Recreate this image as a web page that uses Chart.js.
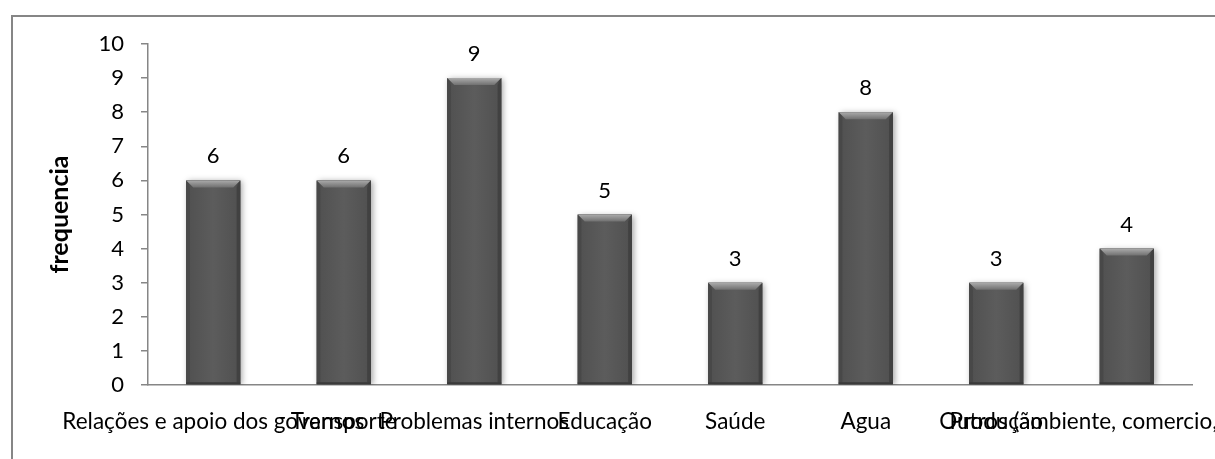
<!DOCTYPE html>
<html>
<head>
<meta charset="utf-8">
<script src="https://cdn.jsdelivr.net/npm/chart.js@4/dist/chart.umd.min.js"></script>
<style>
  html, body { margin: 0; padding: 0; background: #fff; overflow: hidden; }
  body { width: 1215px; height: 459px; position: relative; }
  #frame {
    position: absolute; left: 11px; top: 15px;
    width: 1230px; height: 450px;
    border: 2px solid #868686;
    background: #fff;
  }
  #frame canvas { display: block; }
</style>
</head>
<body>
<div id="frame"><canvas id="chart"></canvas></div>
<script>
// Frequência por tema
const categories = [
  "Relações e apoio dos governos",
  "Transporte",
  "Problemas internos",
  "Educação",
  "Saúde",
  "Agua",
  "Produção",
  "Outros (ambiente, comercio, indústria)"
];
const frequencia = [6, 6, 9, 5, 3, 8, 3, 4];
const yTicks = [0, 1, 2, 3, 4, 5, 6, 7, 8, 9, 10];

const FONT = "Lato, 'Open Sans', sans-serif";
const AXIS_GREY = "#868686";

// soft shadow under the bars, then bevel on top (Excel "3-D" look)
const bevelBars = {
  id: "bevelBars",
  beforeDatasetsDraw(chart) {
    const ctx = chart.ctx;
    ctx.save();
    ctx.shadowColor = "rgba(0,0,0,0.35)";
    ctx.shadowBlur = 6;
    ctx.shadowOffsetX = 2;
    ctx.shadowOffsetY = 1;
  },
  afterDatasetsDraw(chart) {
    const ctx = chart.ctx;
    ctx.restore();
    const meta = chart.getDatasetMeta(0);
    meta.data.forEach((bar) => {
      const w = bar.width;
      const x0 = bar.x - w / 2, x1 = bar.x + w / 2;
      const top = bar.y, base = bar.base;
      const b = 7;

      ctx.save();
      // body shading left to right
      const g = ctx.createLinearGradient(x0, 0, x1, 0);
      g.addColorStop(0, "#3e3e3e");
      g.addColorStop(0.08, "#525252");
      g.addColorStop(0.5, "#5c5c5c");
      g.addColorStop(0.92, "#525252");
      g.addColorStop(1, "#3a3a3a");
      ctx.fillStyle = g;
      ctx.fillRect(x0, top, w, base - top);

      // left bevel
      ctx.fillStyle = "#484848";
      ctx.beginPath();
      ctx.moveTo(x0, top); ctx.lineTo(x0 + b * 0.5, top + b);
      ctx.lineTo(x0 + b * 0.5, base - 2); ctx.lineTo(x0, base);
      ctx.closePath(); ctx.fill();
      // right bevel
      ctx.fillStyle = "#414141";
      ctx.beginPath();
      ctx.moveTo(x1, top); ctx.lineTo(x1 - b * 0.5, top + b);
      ctx.lineTo(x1 - b * 0.5, base - 2); ctx.lineTo(x1, base);
      ctx.closePath(); ctx.fill();

      // top bevel
      const tg = ctx.createLinearGradient(0, top, 0, top + b);
      tg.addColorStop(0, "#ababab");
      tg.addColorStop(1, "#707070");
      ctx.fillStyle = tg;
      ctx.beginPath();
      ctx.moveTo(x0, top); ctx.lineTo(x1, top);
      ctx.lineTo(x1 - b, top + b); ctx.lineTo(x0 + b, top + b);
      ctx.closePath(); ctx.fill();

      // bottom lip
      ctx.fillStyle = "#3a3a3a";
      ctx.fillRect(x0, base - 2, w, 2);
      ctx.restore();
    });
  }
};

// value above each bar
const valueLabels = {
  id: "valueLabels",
  afterDatasetsDraw(chart) {
    const ctx = chart.ctx;
    const meta = chart.getDatasetMeta(0);
    ctx.save();
    ctx.font = "22px " + FONT;
    ctx.fillStyle = "#000";
    ctx.textAlign = "center";
    ctx.textBaseline = "alphabetic";
    meta.data.forEach((bar, i) => {
      ctx.fillText(String(frequencia[i]), bar.x, bar.y - 17);
    });
    ctx.restore();
  }
};

new Chart(document.getElementById("chart"), {
  type: "bar",
  data: {
    labels: categories,
    datasets: [{
      data: frequencia,
      backgroundColor: "#555555",
      borderWidth: 0,
      barPercentage: 0.414,
      categoryPercentage: 1
    }]
  },
  options: {
    responsive: true,
    maintainAspectRatio: false,
    animation: false,
    events: [],
    layout: { padding: { left: 28, right: 51, top: 27, bottom: 0 } },
    plugins: { legend: { display: false }, tooltip: { enabled: false } },
    scales: {
      x: {
        grid: { display: false, drawTicks: false },
        border: { display: true, color: AXIS_GREY, width: 1.5 },
        ticks: {
          color: "#000",
          font: { family: FONT, size: 22.5 },
          autoSkip: false,
          maxRotation: 0,
          minRotation: 0,
          padding: 23
        },
        afterFit(scale) {
          scale.height = 82;
          scale.paddingLeft = 0;
          scale.paddingRight = 0;
        }
      },
      y: {
        min: 0,
        max: 10,
        afterBuildTicks(scale) {
          scale.ticks = yTicks.map((v) => ({ value: v }));
        },
        grid: { drawOnChartArea: false, drawTicks: true, tickLength: 7, color: AXIS_GREY, lineWidth: 1.5 },
        border: { display: true, color: AXIS_GREY, width: 1.5 },
        ticks: {
          color: "#000",
          font: { family: FONT, size: 22 },
          padding: 17
        },
        title: {
          display: true,
          text: "frequencia",
          color: "#000",
          font: { family: FONT, size: 25, weight: "bold" },
          padding: { top: 4, bottom: 4 }
        },
        afterFit(scale) {
          scale.width = 107;
          scale.paddingTop = 0;
          scale.paddingBottom = 0;
        }
      }
    }
  },
  plugins: [bevelBars, valueLabels]
});
</script>
</body>
</html>
